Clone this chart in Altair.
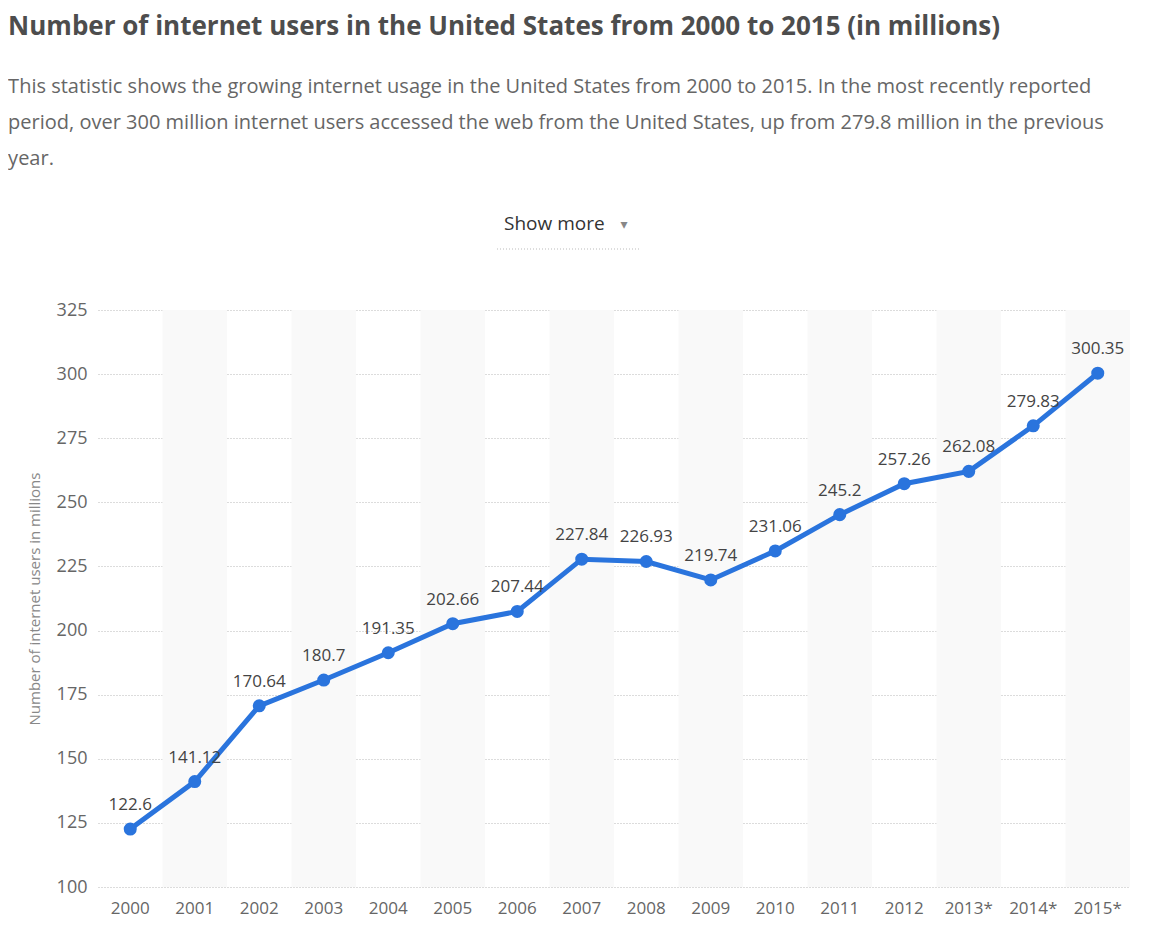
import altair as alt
import pandas as pd

years = ["2000", "2001", "2002", "2003", "2004", "2005", "2006", "2007",
         "2008", "2009", "2010", "2011", "2012", "2013*", "2014*", "2015*"]
users = [122.6, 141.12, 170.64, 180.7, 191.35, 202.66, 207.44, 227.84,
         226.93, 219.74, 231.06, 245.2, 257.26, 262.08, 279.83, 300.35]
y_ticks = [100, 125, 150, 175, 200, 225, 250, 275, 300, 325]

title_text = "Number of internet users in the United States from 2000 to 2015 (in millions)"
subtitle_lines = [
    "This statistic shows the growing internet usage in the United States from 2000 to 2015. In the most recently reported",
    "period, over 300 million internet users accessed the web from the United States, up from 279.8 million in the previous",
    "year.",
]

df = pd.DataFrame({"year": years, "users": users, "label": [str(v) for v in users]})
bands = pd.DataFrame({"year": years[1::2]})

W, H = 1032, 577
FONT = "Open Sans"

xscale = alt.Scale(type="band", domain=years, paddingInner=0, paddingOuter=0)
yscale = alt.Scale(domain=[100, 325], nice=False, zero=False)

band_layer = alt.Chart(bands).mark_rect(color="#f9f9f9").encode(
    x=alt.X("year:N", scale=xscale, sort=years,
            axis=alt.Axis(title=None, labelFont=FONT, labelFontSize=17, labelColor="#666",
                          labelPadding=13, ticks=False, domain=False, grid=False, labelAngle=0)),
)

line = alt.Chart(df).mark_line(color="#2a74dd", strokeWidth=5).encode(
    x=alt.X("year:N", scale=xscale, sort=years),
    y=alt.Y("users:Q", scale=yscale,
            axis=alt.Axis(values=y_ticks, title="Number of internet users in millions",
                          titleFont=FONT, titleFontSize=15, titleFontWeight="normal",
                          titleColor="#888", titlePadding=14,
                          labelFont=FONT, labelFontSize=18, labelColor="#666", labelPadding=11,
                          ticks=False, domain=False, grid=True, gridColor="#b8b8b8",
                          gridDash=[1, 2], gridWidth=1)),
)
points = alt.Chart(df).mark_point(filled=True, opacity=1, color="#2a74dd", size=170).encode(
    x=alt.X("year:N", scale=xscale, sort=years),
    y=alt.Y("users:Q", scale=yscale),
)
labels = alt.Chart(df).mark_text(font=FONT, fontSize=17, color="#444", dy=-24).encode(
    x=alt.X("year:N", scale=xscale, sort=years),
    y=alt.Y("users:Q", scale=yscale),
    text="label:N",
)

hdr = pd.DataFrame({"t": ["Show more"]})
show_more = alt.Chart(hdr).mark_text(font=FONT, fontSize=19, color="#333", align="left",
                                     baseline="middle").encode(
    x=alt.value(406), y=alt.value(-86), text="t:N")
arrow = alt.Chart(pd.DataFrame({"t": ["▾"]})).mark_text(font="DejaVu Sans", fontSize=14,
                                                         color="#888", baseline="middle").encode(
    x=alt.value(526), y=alt.value(-85), text="t:N")
underline = alt.Chart(hdr).mark_rule(color="#bbb", strokeDash=[1, 2], strokeWidth=1).encode(
    x=alt.value(399), x2=alt.value(541), y=alt.value(-61))

chart = alt.layer(band_layer, line, points, labels, show_more, arrow, underline).properties(
    width=W, height=H,
    padding={"left": 0, "top": 6, "right": 5, "bottom": 5},
    title=alt.TitleParams(
        text=title_text, subtitle=subtitle_lines, anchor="start", frame="bounds",
        font=FONT, fontSize=26, fontWeight="bold", color="#4d4d4d",
        subtitleFont=FONT, subtitleFontSize=20, subtitleColor="#666",
        subtitleLineHeight=36, subtitlePadding=37, offset=46, dx=-19,
    ),
).configure_view(stroke=None)

chart.save("out.html", embed_options={"renderer": "svg", "actions": False})
